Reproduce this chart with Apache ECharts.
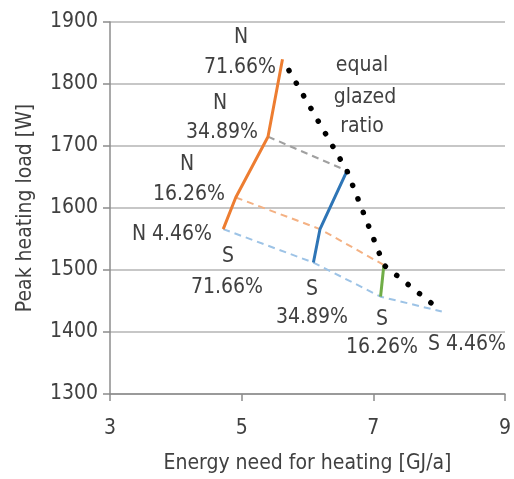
<!DOCTYPE html>
<html>
<head>
<meta charset="utf-8">
<script src="https://cdn.jsdelivr.net/npm/echarts@6/dist/echarts.min.js"></script>
<style>
  html, body { margin: 0; padding: 0; background: #fff; }
  #chart { width: 514px; height: 479px; }
</style>
</head>
<body>
<div id="chart"></div>
<script>
// 数据
var northX = [4.72, 4.91, 5.40, 5.62];
var northY = [1566, 1617, 1715, 1840];
var southMidX = [6.09, 6.19, 6.60];
var southMidY = [1512, 1566, 1660];
var southLowX = [7.11, 7.16];
var southLowY = [1457, 1508];
var equalX = [5.62, 6.60, 7.16, 8.04];
var equalY = [1840, 1660, 1508, 1433];
var link1X = [5.40, 6.60];
var link1Y = [1715, 1660];
var link2X = [4.91, 6.19, 7.16];
var link2Y = [1617, 1566, 1508];
var link3X = [4.72, 6.09, 7.11, 8.04];
var link3Y = [1566, 1512, 1457, 1433];

function pairs(xs, ys) {
    return xs.map(function (x, i) { return [x, ys[i]]; });
}

var FONT = "'Liberation Sans Narrow', 'DejaVu Sans Condensed', sans-serif";
var TXT = '#404040';
var FS = 21;

function lbl(x, y, text) {
    return {
        type: 'text', x: x, y: y,
        style: { text: text, font: FS + 'px ' + FONT, fill: TXT, textAlign: 'center', textVerticalAlign: 'middle' }
    };
}

var myChart = echarts.init(document.getElementById('chart'));

var option = {
    animation: false,
    grid: { left: 110, right: 8, top: 22, bottom: 85 },
    xAxis: {
        type: 'value', min: 3, max: 9, interval: 2,
        name: 'Energy need for heating [GJ/a]',
        nameLocation: 'middle', nameGap: 59,
        nameTextStyle: { fontFamily: FONT, fontSize: FS, color: TXT },
        axisLine: { lineStyle: { color: '#8c8c8c', width: 1.5 } },
        axisTick: { show: true, inside: false, length: 7, lineStyle: { color: '#8c8c8c', width: 1.5 } },
        axisLabel: { fontFamily: FONT, fontSize: FS, color: TXT, margin: 24 },
        splitLine: { show: false }
    },
    yAxis: {
        type: 'value', min: 1300, max: 1900, interval: 100,
        name: 'Peak heating load [W]',
        nameLocation: 'middle', nameGap: 74, nameRotate: 90,
        nameTextStyle: { fontFamily: FONT, fontSize: FS, color: TXT },
        axisLine: { show: true, lineStyle: { color: '#8c8c8c', width: 1.5 } },
        axisTick: { show: true, inside: false, length: 7, lineStyle: { color: '#8c8c8c', width: 1.5 } },
        axisLabel: { fontFamily: FONT, fontSize: FS, color: TXT, margin: 12, formatter: function (v) { return String(v); } },
        splitLine: { show: true, lineStyle: { color: '#b4b4b4', width: 1.5 } }
    },
    series: [
        { type: 'line', data: pairs(link1X, link1Y), symbol: 'none', lineStyle: { color: '#a0a0a0', width: 2, type: [7, 5] } },
        { type: 'line', data: pairs(link2X, link2Y), symbol: 'none', lineStyle: { color: '#f4b183', width: 2, type: [7, 5] } },
        { type: 'line', data: pairs(link3X, link3Y), symbol: 'none', lineStyle: { color: '#9dc3e6', width: 2, type: [7, 5] } },
        { type: 'line', data: pairs(northX, northY), symbol: 'none', lineStyle: { color: '#ed7d31', width: 3 } },
        { type: 'line', data: pairs(southMidX, southMidY), symbol: 'none', lineStyle: { color: '#2e75b6', width: 3 } },
        { type: 'line', data: pairs(southLowX, southLowY), symbol: 'none', lineStyle: { color: '#70ad47', width: 3 } },
        {
            type: 'line', data: pairs(equalX, equalY), symbol: 'none',
            lineStyle: { color: '#000', width: 5.5, type: [0.1, 14.5], dashOffset: -13, cap: 'round' }
        }
    ],
    graphic: [
        lbl(241, 38, 'N'), lbl(240, 68, '71.66%'),
        lbl(220, 104, 'N'), lbl(222, 133, '34.89%'),
        lbl(187, 165, 'N'), lbl(189, 195, '16.26%'),
        lbl(172, 235, 'N 4.46%'),
        lbl(228, 257, 'S'), lbl(227, 288, '71.66%'),
        lbl(312, 290, 'S'), lbl(312, 318, '34.89%'),
        lbl(382, 320, 'S'), lbl(382, 348, '16.26%'),
        lbl(467, 345, 'S 4.46%'),
        lbl(362, 66, 'equal'), lbl(365, 98, 'glazed'), lbl(362, 127, 'ratio')
    ]
};

myChart.setOption(option);
</script>
</body>
</html>
